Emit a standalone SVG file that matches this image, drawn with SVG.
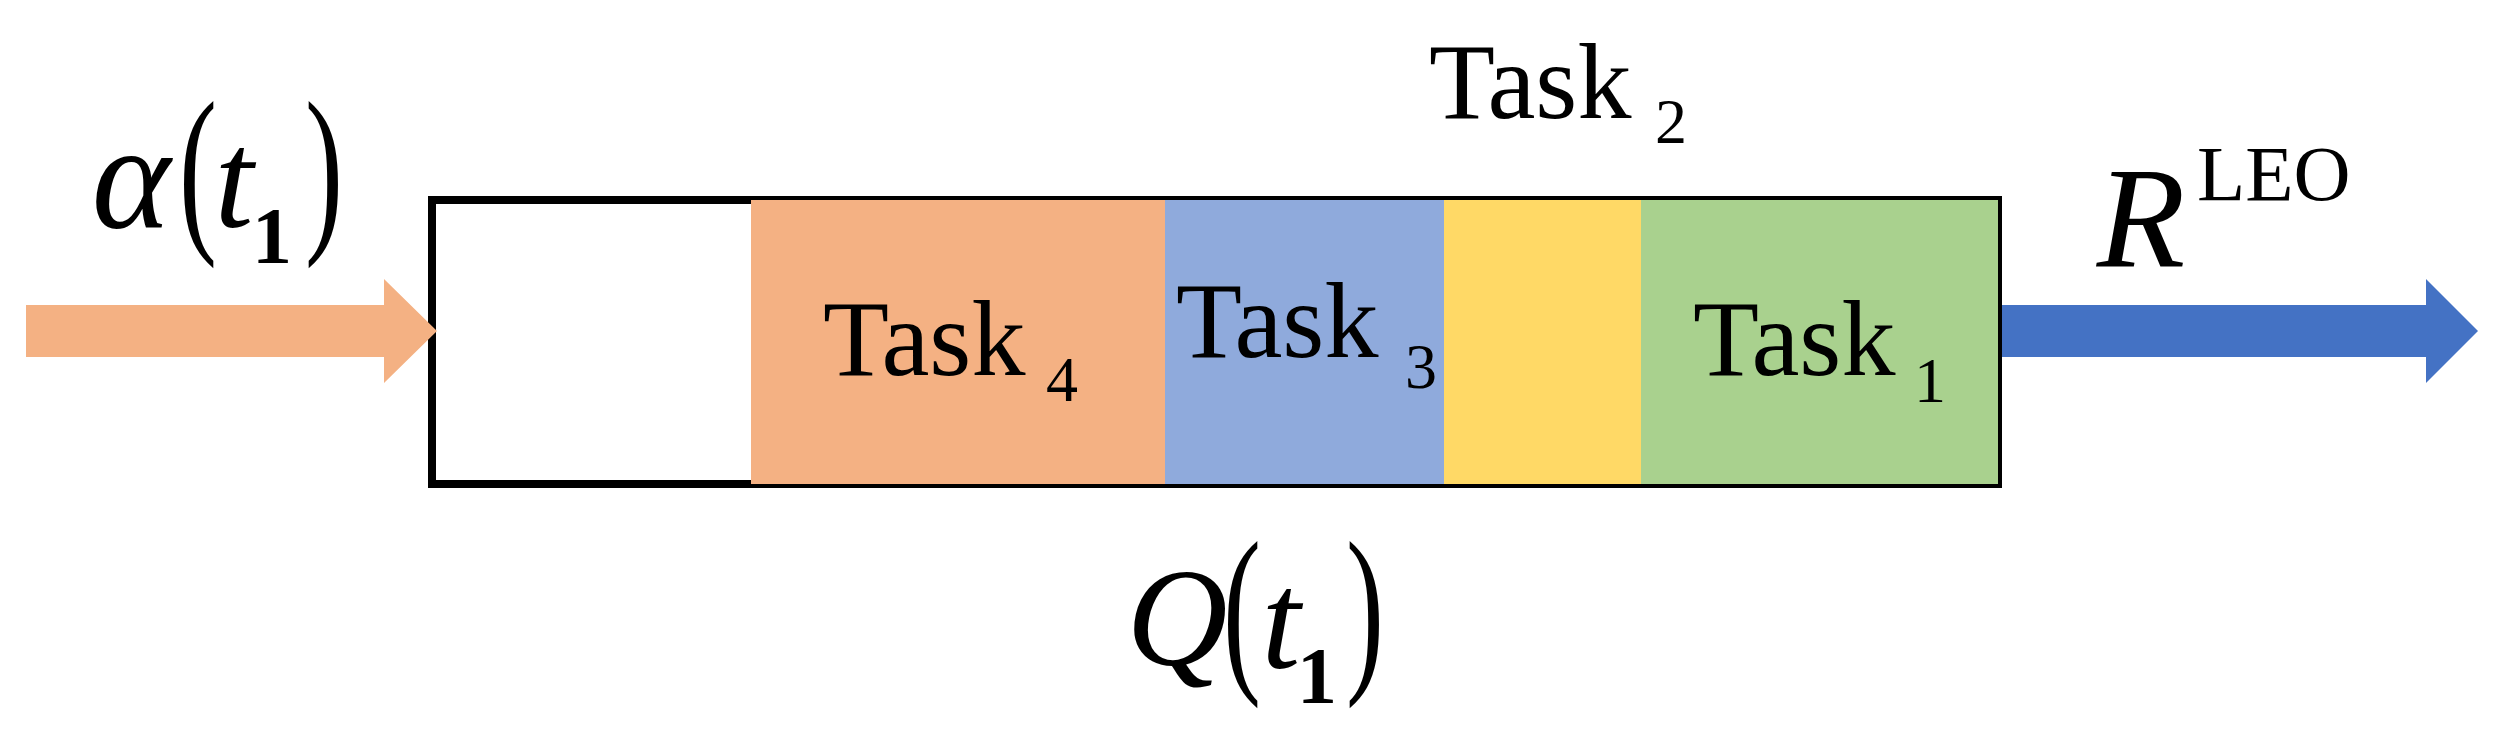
<svg xmlns="http://www.w3.org/2000/svg" width="2495" height="735" viewBox="0 0 2495 735">
<style>
  .serif{font-family:"Liberation Serif","Times New Roman",serif;fill:#000}
  .it{font-style:italic}
  .task{font-size:108px}
  .sub{font-size:64px}
  .seg{stroke:none}
  .paren{font-size:184px}
  .idx{font-size:80px;font-weight:bold}
</style>
<rect width="2495" height="735" fill="#fff"/>
<g id="queue">
  <rect x="432" y="200" width="1566" height="284" fill="#fff" stroke="#000" stroke-width="8"/>
  <rect class="seg" x="751" y="200" width="414" height="284" fill="#F4B183"/>
  <rect class="seg" x="1165" y="200" width="279" height="284" fill="#8FAADC"/>
  <rect class="seg" x="1444" y="200" width="197" height="284" fill="#FFD966"/>
  <rect class="seg" x="1641" y="200" width="357" height="284" fill="#A9D18E"/>
</g>
<g id="task4">
  <text class="serif task" x="823" y="375">Task</text>
  <text class="serif sub" x="1062" y="401" text-anchor="middle">4</text>
</g>
<g id="task3">
  <text class="serif task" x="1176" y="357">Task</text>
  <text class="serif sub" x="1421" y="388" text-anchor="middle">3</text>
</g>
<g id="task2">
  <text class="serif task" x="1429" y="118">Task</text>
  <text class="serif sub" x="1671" y="143" text-anchor="middle">2</text>
</g>
<g id="task1">
  <text class="serif task" x="1693" y="375">Task</text>
  <text class="serif sub" x="1930" y="402" text-anchor="middle">1</text>
</g>
<g id="connectors">
  <polygon id="arrival" points="26,305 384,305 384,279 437,331 384,383 384,357 26,357" fill="#F4B183"/>
  <polygon id="service" points="2002,305 2426,305 2426,279 2478,331 2426,383 2426,357 2002,357" fill="#4472C4"/>
</g>
<g id="label-alpha" class="serif">
  <text class="it" x="131" y="228" font-size="150" text-anchor="middle">α</text>
  <text class="paren" transform="translate(198,229) scale(0.62,1)" text-anchor="middle">(</text>
  <text class="it" x="234" y="227" font-size="140" text-anchor="middle">t</text>
  <text class="idx" x="272" y="263" text-anchor="middle">1</text>
  <text class="paren" transform="translate(324,229) scale(0.62,1)" text-anchor="middle">)</text>
</g>
<g id="label-R" class="serif">
  <text class="it" x="2141" y="266" font-size="145" text-anchor="middle">R</text>
  <text x="2197" y="200" font-size="79">LEO</text>
</g>
<g id="label-Q" class="serif">
  <text class="it" x="1177" y="665" font-size="140" text-anchor="middle">Q</text>
  <text class="paren" transform="translate(1242,669) scale(0.62,1)" text-anchor="middle">(</text>
  <text class="it" x="1281" y="668" font-size="140" text-anchor="middle">t</text>
  <text class="idx" x="1317" y="703" text-anchor="middle">1</text>
  <text class="paren" transform="translate(1365,669) scale(0.62,1)" text-anchor="middle">)</text>
</g>
</svg>
